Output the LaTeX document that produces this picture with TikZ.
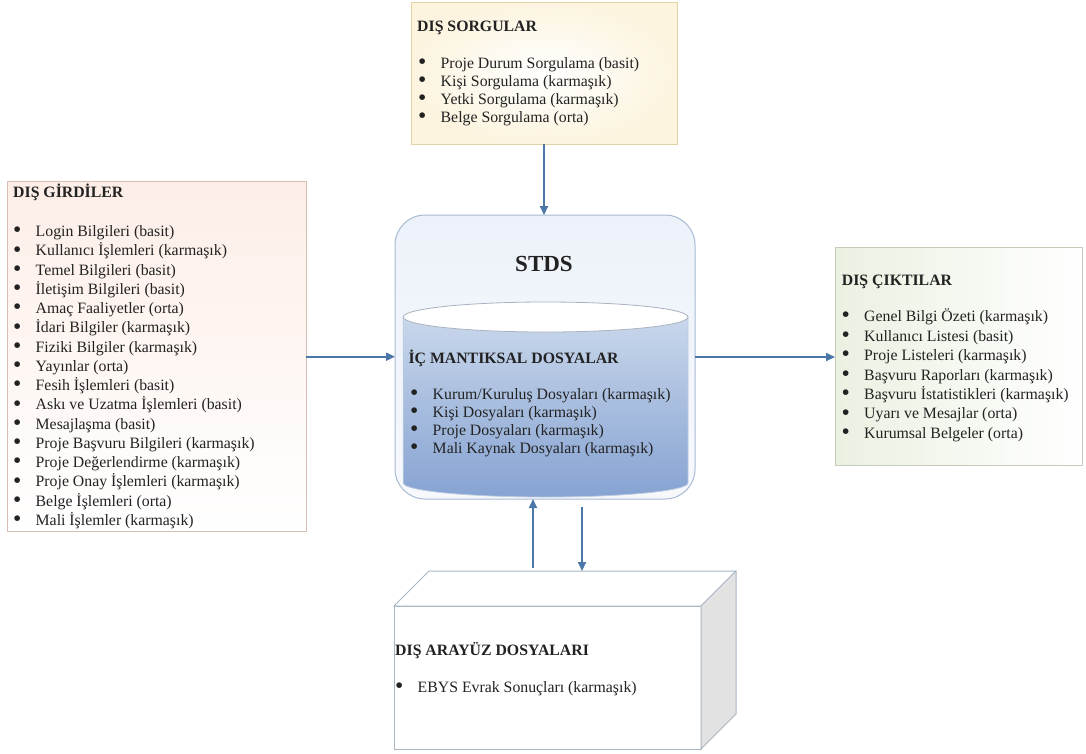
\documentclass[tikz,border=0pt]{standalone}
\usepackage{fontspec}
\setmainfont{Liberation Serif}
\usetikzlibrary{arrows.meta,calc}

% palette
\definecolor{arrowblue}{HTML}{4A76A8}
\definecolor{ink}{HTML}{222222}
\definecolor{sorgborder}{HTML}{E2D4A4}
\definecolor{sorgfill}{HTML}{FCF4DF}
\definecolor{girdborder}{HTML}{D7C0B3}
\definecolor{girdfill}{HTML}{FDEEE7}
\definecolor{ciktborder}{HTML}{C4CCBC}
\definecolor{ciktfill}{HTML}{EAF1E1}
\definecolor{stdsborder}{HTML}{A7BAD3}
\definecolor{stdstop}{HTML}{EDF2FA}
\definecolor{stdsbottom}{HTML}{F6F8FC}
\definecolor{cylborder}{HTML}{BCCBE0}
\definecolor{cyltop}{HTML}{C9D7EB}
\definecolor{cylbottom}{HTML}{86A3D2}
\definecolor{lidborder}{HTML}{A9B2C0}
\definecolor{boxborder}{HTML}{A9B7C5}
\definecolor{boxside}{HTML}{E2E2E2}

\tikzset{
  arr/.style={draw=arrowblue, line width=2pt, -{Triangle[length=9pt,width=8pt]}},
  itemtxt/.style={anchor=base west, inner sep=0pt, text=ink,
                  font=\fontsize{15.8}{19}\selectfont},
  headtxt/.style={itemtxt, font=\fontsize{15.8}{19}\selectfont\bfseries},
  panel/.style={rectangle, inner sep=0pt, outer sep=0pt, line width=1pt},
}
% list bullet: a slightly enlarged bullet followed by the indent
\newcommand{\bul}{\makebox[22.5pt][l]{\smash{\raisebox{-1.2pt}{\scalebox{1.5}{\textbullet}}}}}

\begin{document}
\begin{tikzpicture}[x=1pt,y=-1pt]
\useasboundingbox (0,0) rectangle (1086,753);
\fill[white] (0,0) rectangle (1086,753);

% ---------- external queries ----------
\node[panel, draw=sorgborder, inner color=white, outer color=sorgfill,
      minimum width=266pt, minimum height=142pt] (sorg) at (544,73) {};
\node[headtxt] (sorgT) at (417,31) {DIŞ SORGULAR};
\foreach \t [count=\i from 0] in {{Proje Durum Sorgulama (basit)},
    {Kişi Sorgulama (karmaşık)}, {Yetki Sorgulama (karmaşık)},
    {Belge Sorgulama (orta)}}
  \node[itemtxt] (sorg\i) at (418, 68.5+18*\i) {\bul\t};

% ---------- external inputs ----------
\node[panel, draw=girdborder, top color=girdfill, bottom color=white,
      minimum width=299pt, minimum height=350pt] (gird) at (156.5,356.7) {};
\node[headtxt] (girdT) at (13,197.5) {DIŞ GİRDİLER};
\foreach \t [count=\i from 0] in {{Login Bilgileri (basit)},
    {Kullanıcı İşlemleri (karmaşık)}, {Temel Bilgileri (basit)},
    {İletişim Bilgileri (basit)}, {Amaç Faaliyetler (orta)},
    {İdari Bilgiler (karmaşık)}, {Fiziki Bilgiler (karmaşık)},
    {Yayınlar (orta)}, {Fesih İşlemleri (basit)},
    {Askı ve Uzatma İşlemleri (basit)}, {Mesajlaşma (basit)},
    {Proje Başvuru Bilgileri (karmaşık)}, {Proje Değerlendirme (karmaşık)},
    {Proje Onay İşlemleri (karmaşık)}, {Belge İşlemleri (orta)},
    {Mali İşlemler (karmaşık)}}
  \node[itemtxt] (gird\i) at (13, 236.7+19.25*\i) {\bul\t};

% ---------- external outputs ----------
\node[panel, draw=ciktborder, left color=ciktfill, right color=white,
      minimum width=247pt, minimum height=218pt] (cikt) at (958.5,356.5) {};
\node[headtxt] (ciktT) at (841.7,285) {DIŞ ÇIKTILAR};
\foreach \t [count=\i from 0] in {{Genel Bilgi Özeti (karmaşık)},
    {Kullanıcı Listesi (basit)}, {Proje Listeleri (karmaşık)},
    {Başvuru Raporları (karmaşık)}, {Başvuru İstatistikleri (karmaşık)},
    {Uyarı ve Mesajlar (orta)}, {Kurumsal Belgeler (orta)}}
  \node[itemtxt] (cikt\i) at (841.5, 321.7+19.45*\i) {\bul\t};

% ---------- system boundary with internal files ----------
\node[panel, draw=stdsborder, rounded corners=30pt, top color=stdstop,
      bottom color=stdsbottom, minimum width=300pt, minimum height=284pt]
      (stds) at (545,357) {};
\node[anchor=base, inner sep=0pt, text=ink,
      font=\fontsize{23}{26}\selectfont\bfseries] (stdsT) at (544,271) {STDS};

% database cylinder
\shade[top color=cyltop, bottom color=cylbottom, draw=cylborder, line width=0.8pt]
  (403.3,317) -- (403.3,483)
  arc[start angle=180, end angle=0, x radius=142.35, y radius=14]
  -- (688,317) -- cycle;
\draw[fill=white, draw=lidborder, line width=0.8pt]
  (545.65,317) ellipse[x radius=142.35, y radius=15];
\node[headtxt] (cylT) at (408.3,363.5) {İÇ MANTIKSAL DOSYALAR};
\foreach \t [count=\i from 0] in {{Kurum/Kuruluş Dosyaları (karmaşık)},
    {Kişi Dosyaları (karmaşık)}, {Proje Dosyaları (karmaşık)},
    {Mali Kaynak Dosyaları (karmaşık)}}
  \node[itemtxt] (cyl\i) at (410, 399+18*\i) {\bul\t};

% ---------- external interface files (3D box) ----------
\node[panel, draw=boxborder, fill=white,
      minimum width=307pt, minimum height=143pt] (aray) at (547.5,677.5) {};
\coordinate (arayBack) at ($(aray.north west)+(35,-35)$);
\coordinate (arayBackR) at ($(aray.north east)+(35,-35)$);
\coordinate (arayBackB) at ($(aray.south east)+(35,-35)$);
\draw[fill=white, draw=boxborder, line width=1pt, line join=round]
  (aray.north west) -- (arayBack) -- (arayBackR) -- (aray.north east) -- cycle;
\draw[fill=boxside, draw=boxborder, line width=1pt, line join=round]
  (aray.north east) -- (arayBackR) -- (arayBackB) -- (aray.south east) -- cycle;
\node[headtxt] (arayT) at (395,655) {DIŞ ARAYÜZ DOSYALARI};
\node[itemtxt] (aray0) at (395,692.7) {\bul EBYS Evrak Sonuçları (karmaşık)};

% ---------- connectors ----------
\draw[arr] (sorg.south) -- (sorg.south |- stds.north);
\draw[arr] (gird.east) -- (gird.east -| stds.west);
\draw[arr] (stds.east) -- (stds.east -| cikt.west);
\coordinate (upfoot) at (533,568);
\coordinate (downstart) at (582,507);
\draw[arr] (upfoot) -- (upfoot |- stds.south);
\draw[arr] (downstart) -- (downstart |- arayBack);
\end{tikzpicture}
\end{document}
